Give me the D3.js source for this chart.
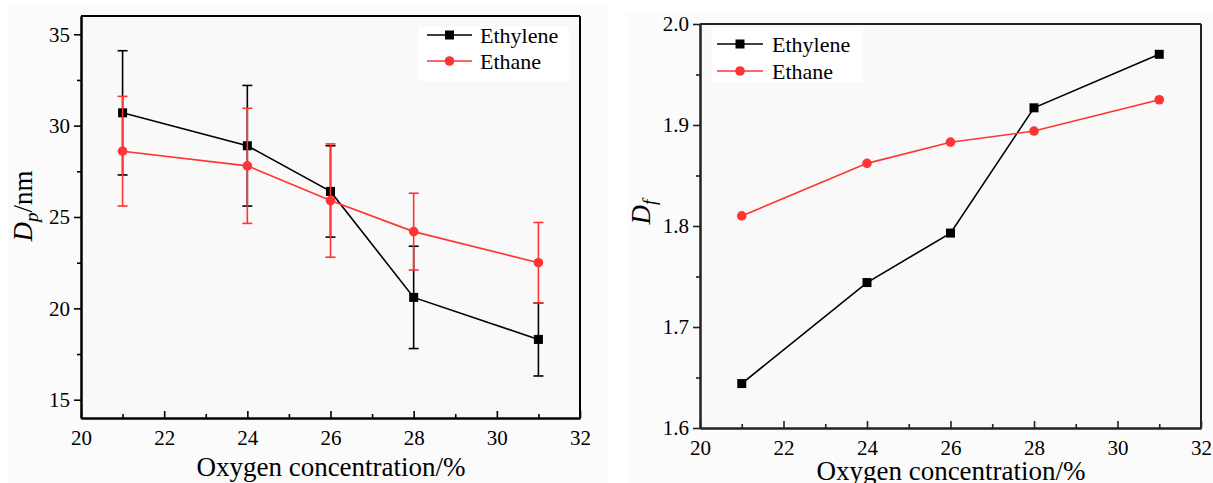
<!DOCTYPE html>
<html>
<head>
<meta charset="utf-8">
<script src="https://cdn.jsdelivr.net/npm/d3@7"></script>
<style>
  html, body { margin: 0; padding: 0; background: #ffffff; }
  svg { display: block; }
  text { font-family: "Liberation Serif", "Times New Roman", serif; fill: #000; }
</style>
</head>
<body>
<svg id="chart" width="1213" height="483"></svg>
<script>
// ---------- data ----------
const oxygen = [21, 24, 26, 28, 31];
const seriesNames = ["Ethylene", "Ethane"];
const dpEthylene = [30.7, 28.9, 26.4, 20.6, 18.3];
const dpEthyleneErr = [3.4, 3.3, 2.5, 2.8, 2.0];
const dpEthane = [28.6, 27.8, 25.9, 24.2, 22.5];
const dpEthaneErr = [3.0, 3.15, 3.1, 2.1, 2.2];
const dfEthylene = [1.644, 1.744, 1.793, 1.917, 1.970];
const dfEthane = [1.810, 1.862, 1.883, 1.894, 1.925];
const xTicks = [20, 22, 24, 26, 28, 30, 32];
const xMinorTicks = [21, 23, 25, 27, 29, 31];
const dpTicks = [15, 20, 25, 30, 35];
const dpMinorTicks = [17.5, 22.5, 27.5, 32.5];
const dfTicks = [1.6, 1.7, 1.8, 1.9, 2.0];
const dfMinorTicks = [1.65, 1.75, 1.85, 1.95];
const xTitle = "Oxygen concentration/%";

const colors = { Ethylene: "#000000", Ethane: "#ff3434" };
const SERIF = '"Liberation Serif", "Times New Roman", serif';

const svg = d3.select("#chart");

// soft grey page patches like the reference
svg.append("rect").attr("x", 8).attr("y", 5).attr("width", 600).attr("height", 478).attr("fill", "#fbfbfb");
svg.append("rect").attr("x", 627).attr("y", 13).attr("width", 586).attr("height", 470).attr("fill", "#fbfbfb");

function panel(opts) {
  const { left, top, right, bottom, yDomain, yTicks, yMinor, yFormat, series, legend, yTitle, xTitlePos, yTitlePos, axisColor } = opts;
  const g = svg.append("g");
  const x = d3.scaleLinear().domain([20, 32]).range([left, right]);
  const y = d3.scaleLinear().domain(yDomain).range([bottom, top]);

  g.append("rect").attr("x", left).attr("y", top).attr("width", right - left).attr("height", bottom - top).attr("fill", "#f9f9f9");

  // x axis (ticks inward)
  g.append("g").attr("transform", `translate(0,${bottom})`)
    .call(d3.axisBottom(x).tickValues(xTicks).tickFormat(d3.format("d")).tickSizeInner(-7).tickSizeOuter(0).tickPadding(12));
  g.append("g").attr("transform", `translate(0,${bottom})`)
    .call(d3.axisBottom(x).tickValues(xMinorTicks).tickFormat("").tickSizeInner(-4).tickSizeOuter(0));
  // y axis (ticks outward)
  g.append("g").attr("transform", `translate(${left},0)`)
    .call(d3.axisLeft(y).tickValues(yTicks).tickFormat(yFormat).tickSizeInner(7).tickSizeOuter(0).tickPadding(4));
  g.append("g").attr("transform", `translate(${left},0)`)
    .call(d3.axisLeft(y).tickValues(yMinor).tickFormat("").tickSizeInner(4).tickSizeOuter(0));

  g.selectAll("g[font-family]").attr("font-family", SERIF).attr("font-size", 21);
  g.selectAll(".domain").attr("stroke", axisColor).attr("stroke-width", 2);
  g.selectAll(".tick line").attr("stroke", axisColor).attr("stroke-width", 1.6);
  g.selectAll(".tick text").attr("font-family", SERIF).attr("font-size", 21).attr("fill", "#000");

  // frame top/right
  g.append("line").attr("x1", left).attr("x2", right).attr("y1", top).attr("y2", top).attr("stroke", axisColor).attr("stroke-width", 2);
  g.append("line").attr("x1", right).attr("x2", right).attr("y1", top).attr("y2", bottom).attr("stroke", axisColor).attr("stroke-width", 2);

  const line = d3.line().x(d => x(d.x)).y(d => y(d.y));

  series.forEach(s => {
    const pts = oxygen.map((o, i) => ({ x: o, y: s.values[i], e: s.err ? s.err[i] : 0 }));
    const c = colors[s.name];
    if (s.err) {
      const eb = g.append("g");
      pts.forEach(p => {
        eb.append("line").attr("x1", x(p.x)).attr("x2", x(p.x)).attr("y1", y(p.y - p.e)).attr("y2", y(p.y + p.e)).attr("stroke", c).attr("stroke-width", 1.6);
        [p.y - p.e, p.y + p.e].forEach(v => {
          eb.append("line").attr("x1", x(p.x) - 5).attr("x2", x(p.x) + 5).attr("y1", y(v)).attr("y2", y(v)).attr("stroke", c).attr("stroke-width", 1.6);
        });
      });
    }
    g.append("path").datum(pts).attr("d", line).attr("fill", "none").attr("stroke", c).attr("stroke-width", 1.6);
    if (s.name === "Ethylene") {
      g.selectAll(null).data(pts).enter().append("rect")
        .attr("x", d => x(d.x) - 4.5).attr("y", d => y(d.y) - 4.5).attr("width", 9).attr("height", 9).attr("fill", c);
    } else {
      g.selectAll(null).data(pts).enter().append("circle")
        .attr("cx", d => x(d.x)).attr("cy", d => y(d.y)).attr("r", 4.8).attr("fill", c);
    }
  });

  // legend
  const lg = g.append("g");
  lg.append("rect").attr("x", legend.x).attr("y", legend.y).attr("width", legend.w).attr("height", legend.h).attr("fill", "#ffffff");
  seriesNames.forEach((n, i) => {
    const cy = legend.rowY[i];
    const c = colors[n];
    lg.append("line").attr("x1", legend.lx1).attr("x2", legend.lx2).attr("y1", cy).attr("y2", cy).attr("stroke", c).attr("stroke-width", 1.6);
    const mx = (legend.lx1 + legend.lx2) / 2;
    if (n === "Ethylene") {
      lg.append("rect").attr("x", mx - 4.5).attr("y", cy - 4.5).attr("width", 9).attr("height", 9).attr("fill", c);
    } else {
      lg.append("circle").attr("cx", mx).attr("cy", cy).attr("r", 4.8).attr("fill", c);
    }
    lg.append("text").attr("x", legend.tx).attr("y", cy).attr("dy", "0.35em")
      .attr("font-family", SERIF).attr("font-size", 22).text(n);
  });

  // x title
  g.append("text").attr("x", xTitlePos[0]).attr("y", xTitlePos[1]).attr("text-anchor", "middle")
    .attr("font-family", SERIF).attr("font-size", 27).text(xTitle);

  // y title
  const yt = g.append("text").attr("transform", `translate(${yTitlePos[0]},${yTitlePos[1]}) rotate(-90)`)
    .attr("text-anchor", "middle").attr("font-family", SERIF).attr("font-size", 27);
  yt.append("tspan").style("font-style", "italic").text("D");
  yt.append("tspan").style("font-style", "italic").attr("font-size", 19).attr("dy", 6).text(yTitle.sub);
  if (yTitle.rest) yt.append("tspan").attr("dy", -6).text(yTitle.rest);
}

panel({
  left: 81, top: 16, right: 580, bottom: 418,
  yDomain: [14, 36], yTicks: dpTicks, yMinor: dpMinorTicks, yFormat: d3.format("d"),
  series: [
    { name: "Ethylene", values: dpEthylene, err: dpEthyleneErr },
    { name: "Ethane", values: dpEthane, err: dpEthaneErr }
  ],
  legend: { x: 418, y: 27, w: 151, h: 54, lx1: 427, lx2: 472, tx: 480, rowY: [35, 61] },
  yTitle: { sub: "p", rest: "/nm" },
  xTitlePos: [331, 476],
  yTitlePos: [32, 206],
  axisColor: "#000"
});

panel({
  left: 700, top: 24, right: 1201, bottom: 428,
  yDomain: [1.6, 2.0], yTicks: dfTicks, yMinor: dfMinorTicks, yFormat: d3.format(".1f"),
  series: [
    { name: "Ethylene", values: dfEthylene },
    { name: "Ethane", values: dfEthane }
  ],
  legend: { x: 712, y: 28, w: 151, h: 54, lx1: 717, lx2: 763, tx: 772, rowY: [44, 71] },
  yTitle: { sub: "f", rest: "" },
  xTitlePos: [951, 480],
  yTitlePos: [650, 212],
  axisColor: "#222"
});
</script>
</body>
</html>
